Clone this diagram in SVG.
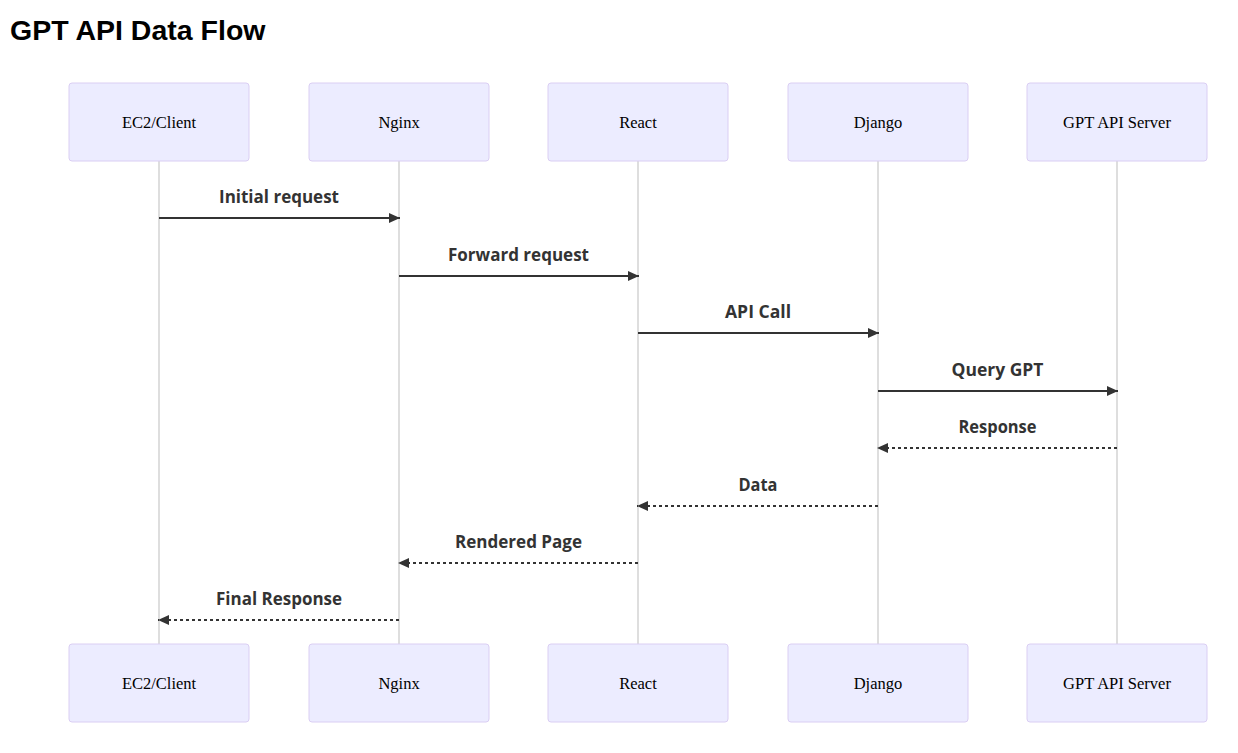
<svg xmlns="http://www.w3.org/2000/svg" width="1238" height="753" viewBox="0 0 1238 753">
<style>
.actor{fill:#ECECFF;stroke:#DACEF3;stroke-width:1}
.atext{font-family:"Liberation Serif","Times New Roman",serif;font-size:16.5px;fill:#000;text-anchor:middle}
.life{stroke:#BDBDBD;stroke-width:1}
.msg{stroke:#333;stroke-width:2;fill:none}
.dash{stroke-dasharray:3,3}
.mtext{font-family:"Open Sans","DejaVu Sans",sans-serif;font-weight:bold;font-size:18.5px;fill:#333;text-anchor:middle}
.title{font-family:"Liberation Sans",Arial,sans-serif;font-weight:bold;font-size:28.5px;fill:#000}
</style>
<defs>
<marker id="arrow" viewBox="0 0 12 12" refX="11" refY="5" markerWidth="12" markerHeight="12" markerUnits="userSpaceOnUse" orient="auto">
<path d="M0,0 L11,5 L0,10 z" fill="#333"/>
</marker>
</defs>
<rect width="1238" height="753" fill="#fff"/>
<text class="title" x="10" y="40">GPT API Data Flow</text>

<g id="lifelines">
<line class="life" x1="159" y1="161" x2="159" y2="644"/>
<line class="life" x1="399" y1="161" x2="399" y2="644"/>
<line class="life" x1="638" y1="161" x2="638" y2="644"/>
<line class="life" x1="878" y1="161" x2="878" y2="644"/>
<line class="life" x1="1117" y1="161" x2="1117" y2="644"/>
</g>

<g id="client">
<rect class="actor" x="69" y="83" width="180" height="78" rx="3"/>
<text class="atext" x="159" y="128">EC2/Client</text>
<rect class="actor" x="69" y="644" width="180" height="78" rx="3"/>
<text class="atext" x="159" y="689">EC2/Client</text>
</g>
<g id="nginx">
<rect class="actor" x="309" y="83" width="180" height="78" rx="3"/>
<text class="atext" x="399" y="128">Nginx</text>
<rect class="actor" x="309" y="644" width="180" height="78" rx="3"/>
<text class="atext" x="399" y="689">Nginx</text>
</g>
<g id="react">
<rect class="actor" x="548" y="83" width="180" height="78" rx="3"/>
<text class="atext" x="638" y="128">React</text>
<rect class="actor" x="548" y="644" width="180" height="78" rx="3"/>
<text class="atext" x="638" y="689">React</text>
</g>
<g id="django">
<rect class="actor" x="788" y="83" width="180" height="78" rx="3"/>
<text class="atext" x="878" y="128">Django</text>
<rect class="actor" x="788" y="644" width="180" height="78" rx="3"/>
<text class="atext" x="878" y="689">Django</text>
</g>
<g id="gpt">
<rect class="actor" x="1027" y="83" width="180" height="78" rx="3"/>
<text class="atext" x="1117" y="128">GPT API Server</text>
<rect class="actor" x="1027" y="644" width="180" height="78" rx="3"/>
<text class="atext" x="1117" y="689">GPT API Server</text>
</g>

<g id="connectors">
<line class="msg" x1="159" y1="218" x2="400" y2="218" marker-end="url(#arrow)"/>
<text class="mtext" x="279" y="203" textLength="120" lengthAdjust="spacingAndGlyphs">Initial request</text>
<line class="msg" x1="399" y1="276" x2="639" y2="276" marker-end="url(#arrow)"/>
<text class="mtext" x="518.5" y="261" textLength="141" lengthAdjust="spacingAndGlyphs">Forward request</text>
<line class="msg" x1="638" y1="333" x2="879" y2="333" marker-end="url(#arrow)"/>
<text class="mtext" x="758" y="318" textLength="66" lengthAdjust="spacingAndGlyphs">API Call</text>
<line class="msg" x1="878" y1="391" x2="1118" y2="391" marker-end="url(#arrow)"/>
<text class="mtext" x="997.5" y="376" textLength="92" lengthAdjust="spacingAndGlyphs">Query GPT</text>
<line class="msg dash" x1="1117" y1="448" x2="877" y2="448" marker-end="url(#arrow)"/>
<text class="mtext" x="997.5" y="433" textLength="78" lengthAdjust="spacingAndGlyphs">Response</text>
<line class="msg dash" x1="878" y1="506" x2="637" y2="506" marker-end="url(#arrow)"/>
<text class="mtext" x="758" y="491" textLength="39" lengthAdjust="spacingAndGlyphs">Data</text>
<line class="msg dash" x1="638" y1="563" x2="398" y2="563" marker-end="url(#arrow)"/>
<text class="mtext" x="518.5" y="548" textLength="127" lengthAdjust="spacingAndGlyphs">Rendered Page</text>
<line class="msg dash" x1="399" y1="620" x2="158" y2="620" marker-end="url(#arrow)"/>
<text class="mtext" x="279" y="605" textLength="126" lengthAdjust="spacingAndGlyphs">Final Response</text>
</g>
</svg>
